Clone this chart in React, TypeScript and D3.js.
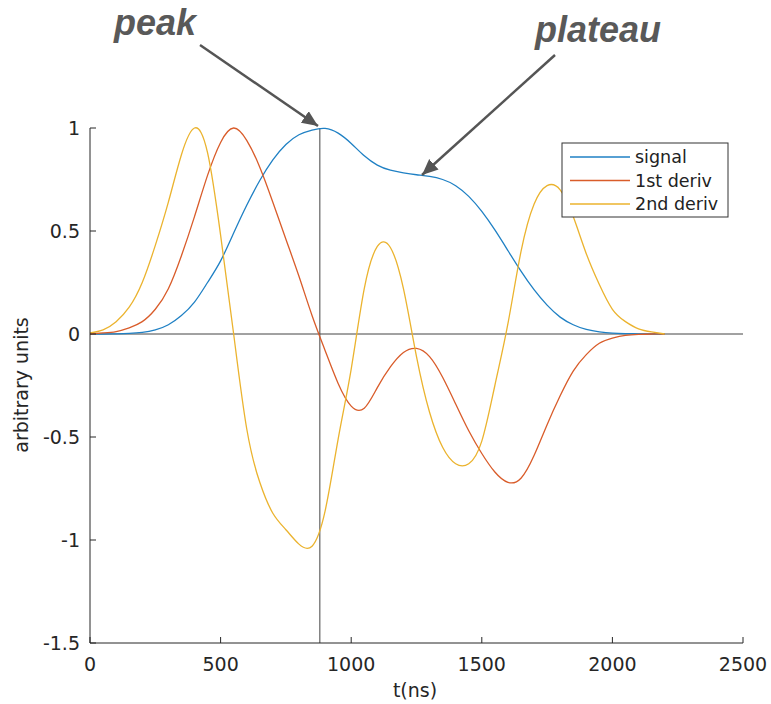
import React from "react";
import * as d3 from "d3";

const tValues = [0, 50, 100, 150, 200, 250, 300, 350, 400, 450, 500, 550, 600, 650, 700, 750, 800, 850, 900, 950, 1000, 1050, 1100, 1150, 1200, 1250, 1300, 1350, 1400, 1450, 1500, 1550, 1600, 1650, 1700, 1750, 1800, 1850, 1900, 1950, 2000, 2050, 2100, 2150, 2200];

const signal = [0, 0, 0.001, 0.003, 0.008, 0.02, 0.045, 0.09, 0.155, 0.25, 0.355, 0.49, 0.625, 0.745, 0.845, 0.92, 0.967, 0.99, 0.998, 0.975, 0.925, 0.865, 0.82, 0.795, 0.782, 0.773, 0.765, 0.75, 0.72, 0.668, 0.595, 0.505, 0.405, 0.305, 0.215, 0.14, 0.082, 0.045, 0.022, 0.01, 0.004, 0.002, 0.001, 0, 0];

const deriv1 = [0, 0.005, 0.012, 0.03, 0.06, 0.12, 0.22, 0.38, 0.57, 0.77, 0.93, 1.0, 0.94, 0.81, 0.64, 0.46, 0.28, 0.09, -0.08, -0.24, -0.35, -0.36, -0.26, -0.16, -0.09, -0.07, -0.11, -0.21, -0.34, -0.47, -0.58, -0.67, -0.72, -0.7, -0.59, -0.44, -0.3, -0.18, -0.1, -0.045, -0.02, -0.007, -0.002, 0, 0];

const deriv2 = [0.005, 0.02, 0.06, 0.13, 0.25, 0.43, 0.64, 0.87, 1.0, 0.88, 0.48, 0.0, -0.46, -0.72, -0.87, -0.95, -1.02, -1.03, -0.86, -0.51, -0.17, 0.22, 0.425, 0.42, 0.22, -0.11, -0.38, -0.55, -0.63, -0.63, -0.52, -0.25, 0.05, 0.4, 0.63, 0.72, 0.7, 0.57, 0.39, 0.24, 0.12, 0.06, 0.025, 0.01, 0];

const seriesNames = ["signal", "1st deriv", "2nd deriv"];
const seriesColors = ["#1f80c4", "#d95c2a", "#ebb32e"];
const seriesValues = [signal, deriv1, deriv2];

const xTicks = [0, 500, 1000, 1500, 2000, 2500];
const yTicks = [-1.5, -1, -0.5, 0, 0.5, 1];
const peakTime = 880;

const annotations = [
  { text: "peak", x: 114, y: 35, from: [200, 45], to: [318, 126] },
  { text: "plateau", x: 535, y: 42, from: [555, 55], to: [422, 175] },
];

export default function App() {
  const W = 771, H = 704;
  const x = d3.scaleLinear().domain([0, 2500]).range([90, 743]);
  const y = d3.scaleLinear().domain([-1.5, 1]).range([643, 128]);
  const line = d3
    .line<number>()
    .x((_, i) => x(tValues[i]))
    .y((d) => y(d))
    .curve(d3.curveNatural);

  const axisColor = "#262626";
  const font = "'DejaVu Sans', sans-serif";

  return (
    <svg width={W} height={H} style={{ position: "absolute", left: 0, top: 0, background: "#fff" }}>
      <defs>
        <marker id="arrow" markerUnits="userSpaceOnUse" markerWidth="20" markerHeight="20" refX="16" refY="7" orient="auto">
          <path d="M0,0 L16,7 L0,14 Z" fill="#555" />
        </marker>
      </defs>
      <rect x={0} y={0} width={W} height={H} fill="#fff" />

      {/* zero line and peak line */}
      <line x1={x(0)} x2={x(2500)} y1={y(0)} y2={y(0)} stroke="#444" strokeWidth={1} />
      <line x1={x(peakTime)} x2={x(peakTime)} y1={y(1)} y2={y(-1.5)} stroke="#444" strokeWidth={1} />

      {/* series */}
      {seriesValues.map((vals, i) => (
        <path key={i} d={line(vals) || ""} fill="none" stroke={seriesColors[i]} strokeWidth={1.3} />
      ))}

      {/* axes */}
      <line x1={x(0)} x2={x(0)} y1={y(1)} y2={y(-1.5)} stroke={axisColor} strokeWidth={1} />
      <line x1={x(0)} x2={x(2500)} y1={y(-1.5)} y2={y(-1.5)} stroke={axisColor} strokeWidth={1} />
      {yTicks.map((t) => (
        <g key={"y" + t}>
          <line x1={x(0)} x2={x(0) + 6} y1={y(t)} y2={y(t)} stroke={axisColor} />
          <text x={80} y={y(t)} dy="0.36em" textAnchor="end" fontFamily={font} fontSize={19} fill="#262626">
            {t}
          </text>
        </g>
      ))}
      {xTicks.map((t) => (
        <g key={"x" + t}>
          <line x1={x(t)} x2={x(t)} y1={y(-1.5)} y2={y(-1.5) - 6} stroke={axisColor} />
          <text x={x(t)} y={671} textAnchor="middle" fontFamily={font} fontSize={19} fill="#262626">
            {t}
          </text>
        </g>
      ))}
      <text x={415} y={697} textAnchor="middle" fontFamily={font} fontSize={19} fill="#262626">
        t(ns)
      </text>
      <text transform="translate(28,385) rotate(-90)" textAnchor="middle" fontFamily={font} fontSize={19} fill="#262626">
        arbitrary units
      </text>

      {/* legend */}
      <rect x={562} y={143} width={166} height={74} fill="#fff" stroke="#333" strokeWidth={1} />
      {seriesNames.map((n, i) => (
        <g key={n}>
          <line x1={570} x2={630} y1={157 + i * 23.5} y2={157 + i * 23.5} stroke={seriesColors[i]} strokeWidth={1.3} />
          <text x={635} y={157 + i * 23.5} dy="0.35em" fontFamily={font} fontSize={17.5} fill="#222">
            {n}
          </text>
        </g>
      ))}

      {/* annotations */}
      {annotations.map((a) => (
        <g key={a.text}>
          <text x={a.x} y={a.y} fontFamily="'Liberation Sans', Arial, sans-serif" fontWeight="bold" fontStyle="italic" fontSize={36} fill="#595959">
            {a.text}
          </text>
          <line x1={a.from[0]} y1={a.from[1]} x2={a.to[0]} y2={a.to[1]} stroke="#555" strokeWidth={2.5} markerEnd="url(#arrow)" />
        </g>
      ))}
    </svg>
  );
}
